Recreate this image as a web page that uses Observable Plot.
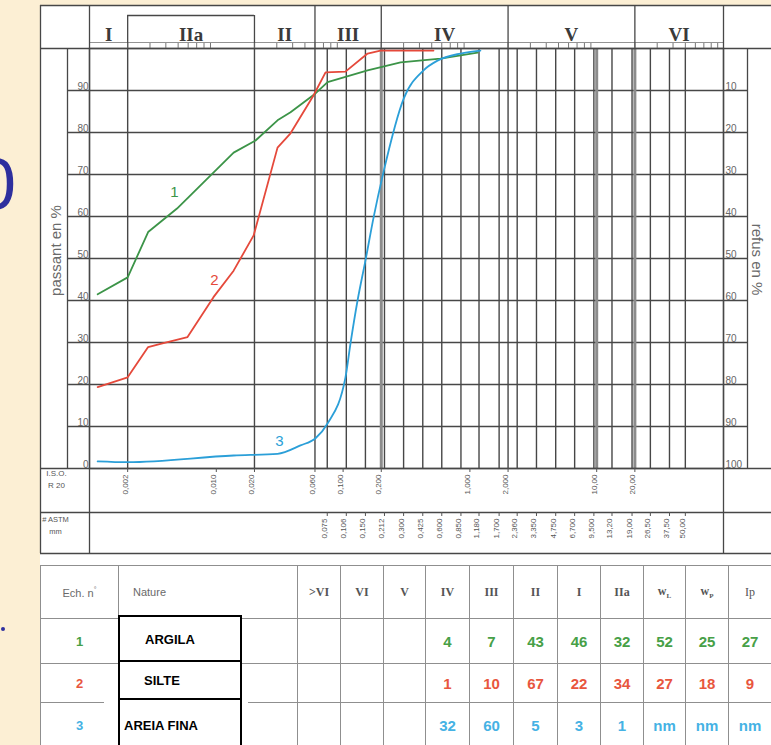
<!DOCTYPE html>
<html>
<head>
<meta charset="utf-8">
<script src="https://cdn.jsdelivr.net/npm/d3@7"></script>
<script src="https://cdn.jsdelivr.net/npm/@observablehq/plot@0.6"></script>
<style>
  html, body { margin:0; padding:0; background:#fcefd4; }
  #page { position:relative; width:771px; height:745px; overflow:hidden; background:#fcefd4; font-family: Arial, "Liberation Sans", sans-serif; }
  #sheet { position:absolute; left:40px; top:5px; width:731px; height:740px; background:#fff; }
  #chart { position:absolute; left:0; top:0; }
  #glyph { position:absolute; left:-24px; top:148px; font: 72px/72px Arial, "Liberation Sans", sans-serif; color:#2e2f9e; }
  #dot { position:absolute; left:1px; top:627px; width:4px; height:4px; border-radius:2px; background:#2e2f9e; }
  #tbl { position:absolute; left:40px; top:565px; border-collapse:collapse; table-layout:fixed; width:732px; }
  #tbl td { border:1px solid #8f8f8f; text-align:center; vertical-align:middle; padding:0; font-size:15px; font-weight:bold; }
  #tbl tr.hd td { height:52px; color:#6a6a6a; font-size:11px; font-weight:normal; }
  #tbl tr.hd td.rom { font-family:"Liberation Serif","DejaVu Serif",serif; font-size:12px; color:#555; font-weight:bold; }
  #tbl tr.hd td.nat { text-align:left; padding-left:14px; }
  #tbl td.ech { font-size:13px; }
  .nbox { position:absolute; left:118px; width:120px; border:2px solid #000; background:#fff; font: bold 13px Arial, "Liberation Sans", sans-serif; color:#000; }
  .nbox span { position:absolute; top:50%; transform:translateY(-50%); }
  #patch { position:absolute; left:104px; top:702px; width:144px; height:45px; background:#fff; }
</style>
</head>
<body>
<div id="page">
  <div id="sheet"></div>
  <div id="glyph">0</div>
  <div id="dot"></div>
  <div id="chart"></div>
  <table id="tbl"></table>
  <div id="patch"></div>
  <div id="boxes"></div>
</div>
<script>
// ---------- data ----------
const sampleIds = ["1", "2", "3"];
const sampleColors = ["#3c9448", "#e5493b", "#2b9fd8"];
const tableTextColors = ["#47a047", "#e8563e", "#45b2e4"];

// sample 1 (green)
const diam1 = [0.00116, 0.002, 0.0029, 0.0049, 0.0137, 0.0204, 0.0304, 0.0385, 0.0606, 0.0754, 0.156, 0.284, 0.586, 1.15];
const pass1 = [41.5, 45.5, 56.3, 61.9, 75.2, 78.1, 82.9, 84.8, 89.3, 92.0, 94.8, 96.7, 97.6, 99.0];
// sample 2 (red)
const diam2 = [0.00116, 0.002, 0.0029, 0.00363, 0.00593, 0.0095, 0.0137, 0.0197, 0.0304, 0.0385, 0.0584, 0.0727, 0.1044, 0.156, 0.197, 0.516];
const pass2 = [19.4, 21.7, 28.9, 29.7, 31.3, 40.8, 47.1, 55.5, 76.4, 79.8, 88.8, 94.3, 94.5, 98.8, 99.5, 99.5];
// sample 3 (blue)
const diam3 = [0.00116, 0.002, 0.0137, 0.0304, 0.0461, 0.0606, 0.0754, 0.1044, 0.1144, 0.130, 0.150, 0.174, 0.208, 0.300, 0.431, 0.555, 0.843, 1.21];
const pass3 = [1.7, 1.5, 3.1, 3.5, 5.5, 7.2, 10.7, 21.7, 29.8, 40.0, 49.5, 59.8, 70.5, 88.0, 94.8, 97.1, 98.8, 99.5];

const labelDiam = [0.00468, 0.00968, 0.0315];
const labelPass = [65.9, 44.8, 6.4];

const classNames = ["I", "IIa", "II", "III", "IV", "V", "VI"];
const classBounds = [0.001, 0.002, 0.02, 0.06, 0.2, 2, 20, 100];

const isoTicks = [0.002, 0.010, 0.020, 0.060, 0.100, 0.200, 1.000, 2.000, 10.00, 20.00];
const isoLabels = ["0,002", "0,010", "0,020", "0,060", "0,100", "0,200", "1,000", "2,000", "10,00", "20,00"];
const isoGrid = [0.002, 0.020, 0.060, 2.000];
const isoGridHeavy = [0.200, 10.00, 20.00];
const astmTicks = [0.075, 0.106, 0.150, 0.212, 0.300, 0.425, 0.600, 0.850, 1.180, 1.700, 2.360, 3.350, 4.750, 6.700, 9.500, 13.20, 19.00, 26.50, 37.50, 50.00];
const astmLabels = ["0,075", "0,106", "0,150", "0,212", "0,300", "0,425", "0,600", "0,850", "1,180", "1,700", "2,360", "3,350", "4,750", "6,700", "9,500", "13,20", "19,00", "26,50", "37,50", "50,00"];
const passTicks = [0, 10, 20, 30, 40, 50, 60, 70, 80, 90];
const gridPass = [10, 20, 30, 40, 50, 60, 70, 80, 90];
const minorMult = [2, 3, 4, 5, 6, 7, 8, 9];
const decades = [0.001, 0.01, 0.1, 1, 10];

const tableHeads = [">VI", "VI", "V", "IV", "III", "II", "I", "IIa"];
const natures = ["ARGILA", "SILTE", "AREIA FINA"];
const values1 = ["", "", "", "4", "7", "43", "46", "32", "52", "25", "27"];
const values2 = ["", "", "", "1", "10", "67", "22", "34", "27", "18", "9"];
const values3 = ["", "", "", "32", "60", "5", "3", "1", "nm", "nm", "nm"];

// ---------- layout (pixels) ----------
const W = 771, HS = 560;
const F = {left: 89, right: 723, top: 48, bottom: 468};
const SH = {left: 40, right: 771, top: 5};
const innerCol = 67, outerCol = 747;
const tickRowY = 42, iiaTop = 15, isoBottom = 512, astmBottom = 553;
const LINE = "#474747";

const hRule = (yPx, x1, x2, o = {}) =>
  Plot.ruleY([0], {dy: yPx - F.bottom, insetLeft: x1 - F.left, insetRight: F.right - x2, stroke: LINE, strokeWidth: 1.3, ...o});
const vRulePx = (xPx, y1, y2, o = {}) =>
  Plot.ruleX([0.001], {dx: xPx - F.left, insetTop: y1 - F.top, insetBottom: F.bottom - y2, stroke: LINE, strokeWidth: 1.3, ...o});
const vRuleAt = (vals, y1, y2, o = {}) =>
  Plot.ruleX(vals, {insetTop: y1 - F.top, insetBottom: F.bottom - y2, stroke: LINE, strokeWidth: 1.3, ...o});

const curve12 = [
  ...diam1.map((d, i) => ({sample: "1", d, p: pass1[i]})),
  ...diam2.map((d, i) => ({sample: "2", d, p: pass2[i]}))
];
const curve3 = diam3.map((d, i) => ({sample: "3", d, p: pass3[i]}));
const minorTicks = decades.flatMap(dec => minorMult.map(m => dec * m));
const classCenters = classNames.map((n, i) => ({n, d: Math.sqrt(classBounds[i] * classBounds[i + 1])}));

const plot = Plot.plot({
  width: W, height: HS,
  marginLeft: F.left, marginRight: W - F.right, marginTop: F.top, marginBottom: HS - F.bottom,
  style: {background: "transparent", overflow: "visible", fontFamily: "Arial, 'Liberation Sans', sans-serif"},
  x: {type: "log", domain: [0.001, 100], axis: null},
  y: {domain: [0, 100], axis: null},
  color: {domain: sampleIds, range: sampleColors},
  marks: [
    // horizontal grid (extends into label columns)
    Plot.ruleY(gridPass, {insetLeft: innerCol - F.left, insetRight: F.right - outerCol, stroke: LINE, strokeWidth: 1.5}),
    // vertical sieve grid
    Plot.ruleX(isoGridHeavy, {stroke: "#8c8c8c", strokeWidth: 3}),
    Plot.ruleX(astmTicks, {stroke: LINE, strokeWidth: 1.4}),
    Plot.ruleX(isoGrid, {stroke: LINE, strokeWidth: 1.4}),
    // frame & form
    Plot.frame({stroke: LINE, strokeWidth: 1.4}),
    hRule(SH.top, SH.left, SH.right),
    hRule(F.top, SH.left, SH.right),
    hRule(tickRowY, F.left, F.right, {strokeWidth: 0.8, stroke: "#777"}),
    hRule(F.bottom, SH.left, SH.right),
    hRule(isoBottom, SH.left, SH.right),
    hRule(astmBottom, SH.left, SH.right),
    vRulePx(SH.left, SH.top, astmBottom),
    vRulePx(innerCol, F.top, F.bottom),
    vRulePx(outerCol, F.top, F.bottom),
    vRuleAt([0.001, 100], SH.top, astmBottom),
    vRuleAt([0.06, 0.2, 2, 20], SH.top, F.top),
    // IIa box
    vRuleAt([0.002, 0.02], iiaTop, F.top),
    Plot.ruleY([0], {dy: iiaTop - F.bottom, x1: 0.002, x2: 0.02, stroke: LINE, strokeWidth: 1.3}),
    // minor ticks row
    vRuleAt(minorTicks, tickRowY + 1, F.top, {strokeWidth: 0.9, stroke: "#666"}),
    // header class labels
    Plot.text(classCenters, {x: "d", text: "n", frameAnchor: "top", dy: -21, fontSize: 19, fontWeight: "bold",
      fontFamily: "'Liberation Serif', 'DejaVu Serif', serif", fill: "#3a3a3a"}),
    // y axes
    Plot.axisY(passTicks, {anchor: "left", tickSize: 0, tickPadding: 1, dy: -4, fontSize: 10, color: "#666", label: null}),
    Plot.axisY(passTicks, {anchor: "right", tickSize: 0, tickPadding: 2, dy: -4, fontSize: 10, color: "#666", label: null,
      tickFormat: d => String(100 - d)}),
    Plot.text(["passant en %"], {frameAnchor: "left", textAnchor: "middle", dx: -33, dy: -8, rotate: -90, fontSize: 15, fill: "#6a6a6a"}),
    Plot.text(["refus en %"], {frameAnchor: "right", textAnchor: "middle", dx: 33, dy: 1, rotate: 90, fontSize: 15, fill: "#6a6a6a"}),
    // ISO R20 row
    Plot.ruleX(isoTicks, {insetTop: F.bottom - F.top, insetBottom: -4, stroke: "#555"}),
    Plot.text(isoTicks, {x: d => d, text: (d, i) => isoLabels[i], frameAnchor: "bottom", dy: 6, rotate: -90,
      textAnchor: "end", fontSize: 8, fill: "#555"}),
    Plot.text(["I.S.O.\nR 20"], {frameAnchor: "bottom-left", textAnchor: "middle", dx: -33, dy: 19, fontSize: 8, fill: "#555", lineHeight: 1.4}),
    // ASTM row
    Plot.ruleX(astmTicks, {insetTop: isoBottom - F.top, insetBottom: F.bottom - (isoBottom + 4), stroke: "#555"}),
    Plot.text(astmTicks, {x: d => d, text: (d, i) => astmLabels[i], frameAnchor: "bottom", dy: isoBottom + 6 - F.bottom,
      rotate: -90, textAnchor: "end", fontSize: 8, fill: "#555"}),
    Plot.text(["# ASTM\nmm"], {frameAnchor: "bottom-left", textAnchor: "middle", dx: -34, dy: 65, fontSize: 7.5, fill: "#555", lineHeight: 1.6}),
    // curves
    Plot.line(curve12, {x: "d", y: "p", z: "sample", stroke: "sample", strokeWidth: 1.8}),
    Plot.line(curve3, {x: "d", y: "p", stroke: "sample", strokeWidth: 1.8, curve: "monotone-x"}),
    Plot.text(sampleIds, {x: (d, i) => labelDiam[i], y: (d, i) => labelPass[i], text: d => d, fill: d => d, fontSize: 15})
  ]
});
document.getElementById("chart").appendChild(plot);

// ---------- table ----------
const colWidths = [78, 179, 43, 43, 42, 44, 44, 44, 43, 43, 42, 43, 43];
const rowHeights = [44, 38, 45];
const tbl = document.getElementById("tbl");
const cg = document.createElement("colgroup");
colWidths.forEach(w => { const c = document.createElement("col"); c.style.width = w + "px"; cg.appendChild(c); });
tbl.appendChild(cg);
const hd = document.createElement("tr");
hd.className = "hd";
hd.innerHTML = `<td>Ech. n<sup style="font-size:7px">°</sup></td><td class="nat">Nature</td>` +
  tableHeads.map(h => `<td class="rom">${h.replace(">", "&gt;")}</td>`).join("") +
  `<td class="rom">w<sub style="font-size:7px">L</sub></td><td class="rom">w<sub style="font-size:7px">P</sub></td><td class="rom" style="font-weight:normal">Ip</td>`;
tbl.appendChild(hd);
[values1, values2, values3].forEach((vals, r) => {
  const tr = document.createElement("tr");
  const col = tableTextColors[r];
  tr.innerHTML = `<td class="ech" style="color:${col};height:${rowHeights[r]}px">${sampleIds[r]}</td><td></td>` +
    vals.map(v => `<td style="color:${col}">${v}</td>`).join("");
  tbl.appendChild(tr);
});

// nature boxes
const boxTops = [615, 660, 698];
const boxHeights = [43, 36, 50];
const textLeft = [25, 24, 4];
const boxes = document.getElementById("boxes");
natures.forEach((n, i) => {
  const b = document.createElement("div");
  b.className = "nbox";
  b.style.top = boxTops[i] + "px";
  b.style.height = boxHeights[i] + "px";
  b.innerHTML = `<span style="left:${textLeft[i]}px">${n}</span>`;
  boxes.appendChild(b);
});
</script>
</body>
</html>
